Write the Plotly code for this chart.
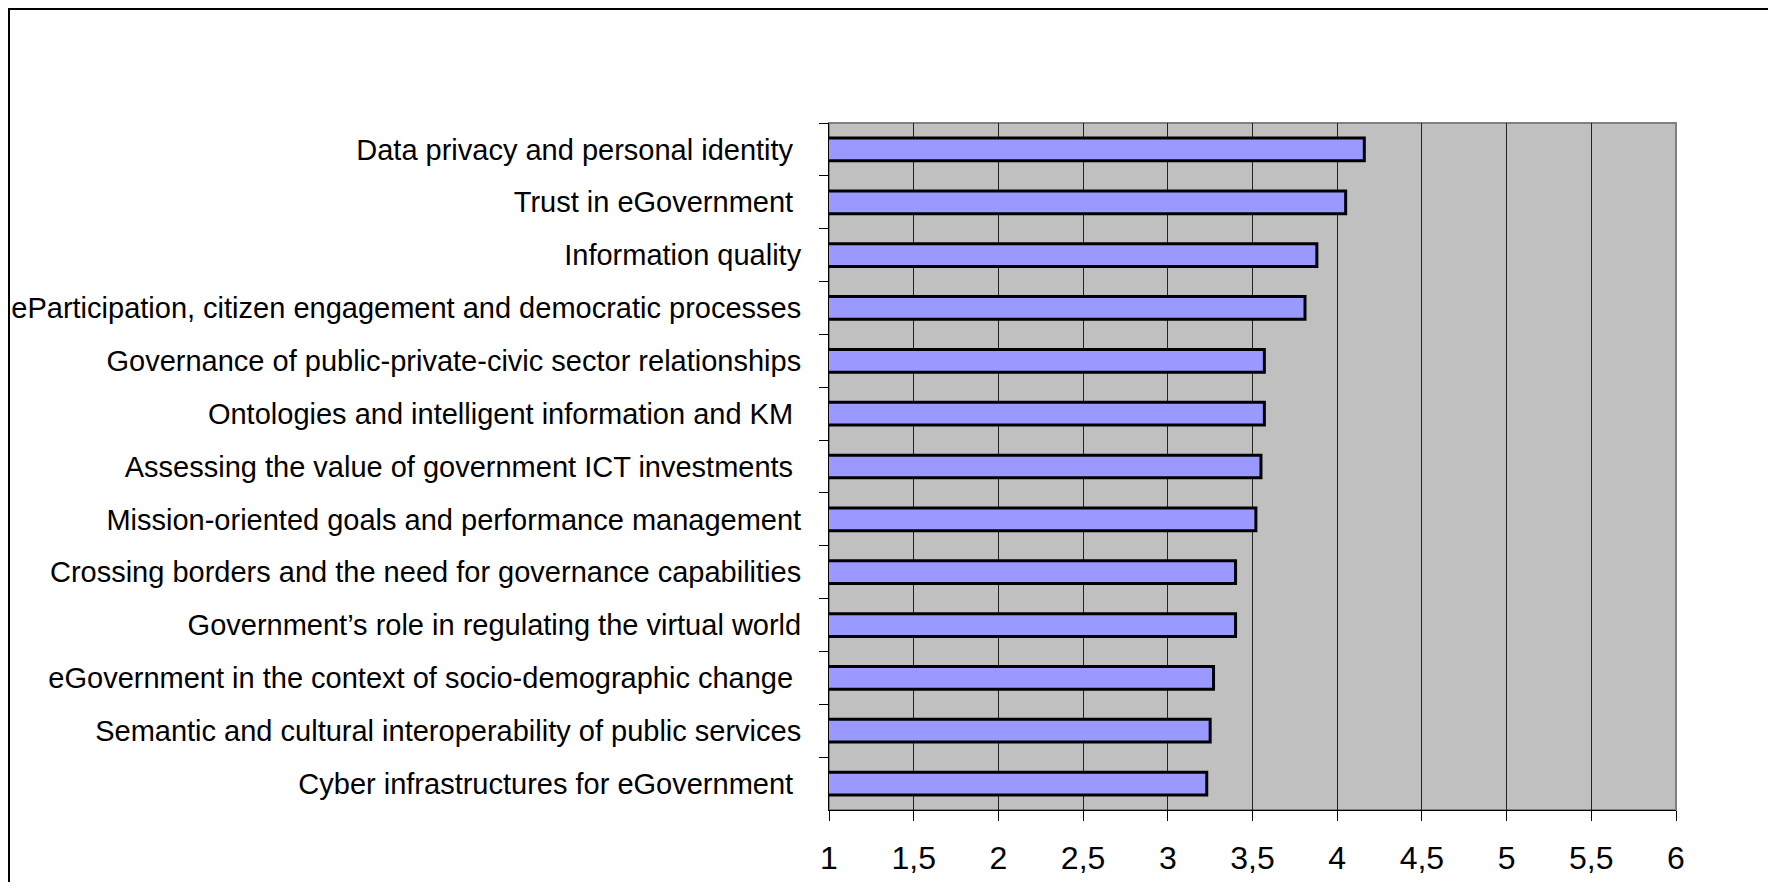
import plotly.graph_objects as go

categories = [
    "Data privacy and personal identity\u00a0",
    "Trust in eGovernment\u00a0",
    "Information quality",
    "eParticipation, citizen engagement and democratic processes",
    "Governance of public-private-civic sector relationships",
    "Ontologies and intelligent information and KM\u00a0",
    "Assessing the value of government ICT investments\u00a0",
    "Mission-oriented goals and performance management",
    "Crossing borders and the need for governance capabilities",
    "Government\u2019s role in regulating the virtual world",
    "eGovernment in the context of socio-demographic change\u00a0",
    "Semantic and cultural interoperability of public services",
    "Cyber infrastructures for eGovernment\u00a0",
]
values = [4.16, 4.05, 3.88, 3.81, 3.57, 3.57, 3.55, 3.52, 3.40, 3.40, 3.27, 3.25, 3.23]
x_tickvals = [1, 1.5, 2, 2.5, 3, 3.5, 4, 4.5, 5, 5.5, 6]
x_ticktext = ["1", "1,5", "2", "2,5", "3", "3,5", "4", "4,5", "5", "5,5", "6"]

OFF = 8  # page body margin
W, H = 1776 - 2 * OFF, 890 - 2 * OFF
L, R, T, B = 829 - OFF, 1676 - OFF, 123 - OFF, 810 - OFF

fig = go.Figure(go.Bar(
    y=categories, x=values, base=0, orientation="h",
    width=0.43,
    marker=dict(color="#9999FF", line=dict(color="#000000", width=3)),
))

fig.update_layout(
    width=W, height=H,
    margin=dict(l=L, r=W - R, t=T, b=H - B, pad=0),
    paper_bgcolor="#FFFFFF",
    plot_bgcolor="#C0C0C0",
    showlegend=False,
    font=dict(family="Liberation Sans, Arial, sans-serif", color="#000000"),
    xaxis=dict(
        range=[1, 6], tickvals=x_tickvals, ticktext=x_ticktext,
        automargin=False,
        showgrid=True, gridcolor="#222222", gridwidth=1,
        zeroline=False,
        ticks="outside", ticklen=10, tickcolor="#000000", tickwidth=1,
        showline=True, linecolor="#000000", linewidth=1,
        tickfont=dict(size=32), ticklabelstandoff=10,
    ),
    yaxis=dict(
        autorange="reversed",
        automargin=False,
        showgrid=False, zeroline=False,
        ticks="outside", ticklen=9, tickcolor="#000000", tickwidth=1,
        tickson="boundaries",
        showline=True, linecolor="#000000", linewidth=1,
        tickfont=dict(size=29), ticklabelstandoff=21,
    ),
    shapes=[
        dict(type="rect", xref="paper", yref="paper", x0=0, x1=1, y0=0, y1=1,
             line=dict(color="#808080", width=2), layer="below"),
        dict(type="rect", xref="paper", yref="paper",
             x0=(9 - OFF - L) / (R - L), x1=(1800 - L) / (R - L),
             y0=(B - 900) / (B - T), y1=(B - (9 - OFF)) / (B - T),
             line=dict(color="#000000", width=2), fillcolor="rgba(0,0,0,0)"),
    ],
)

fig.write_html("out.html")
